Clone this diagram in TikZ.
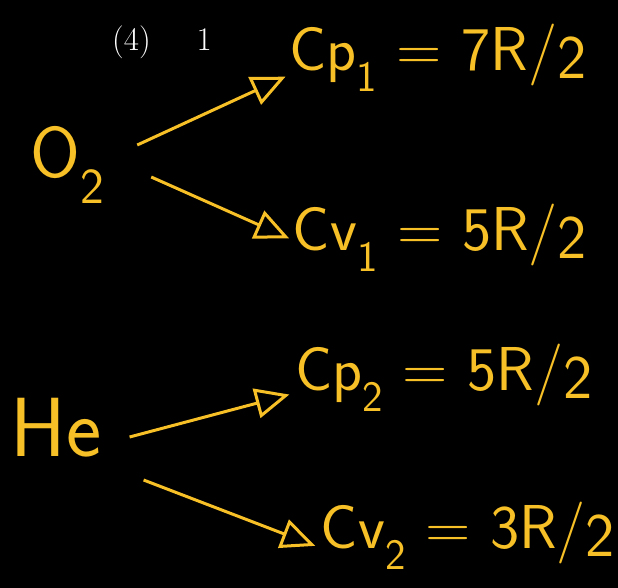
\documentclass[tikz,border=0pt]{standalone}
\usepackage{fontspec}
\usepackage{tikz}
\usetikzlibrary{arrows.meta, positioning}
\definecolor{chalk}{RGB}{246,192,38}

\begin{document}
\begin{tikzpicture}[x=1pt, y=-1pt,
  gas/.style={text=chalk, font=\sffamily\fontsize{72}{76}\selectfont, inner sep=0pt},
  res/.style={text=chalk, font=\sffamily\fontsize{62}{66}\selectfont, inner sep=0pt},
  arr/.style={-{Triangle[open, length=34pt, width=30pt, line width=3pt]}, draw=chalk, line width=3pt},
]
\fill[black] (0,0) rectangle (618,588);
\useasboundingbox (0,0) rectangle (618,588);

\node[text=white, font=\fontsize{33}{36}\selectfont] (num) at (162,42) {(4)\hspace{46pt}1};

\node[gas] (o2) at (68,165) {O\textsubscript{2}};
\node[gas, font=\sffamily\fontsize{84}{88}\selectfont] (he) at (56,428) {He};

\node[res] (cp1) at (438,58) {Cp\textsubscript{1} = 7R/\raisebox{-0.3ex}{2}};
\node[res] (cv1) at (440,238) {Cv\textsubscript{1} = 5R/\raisebox{-0.3ex}{2}};
\node[res] (cp2) at (444,378) {Cp\textsubscript{2} = 5R/\raisebox{-0.3ex}{2}};
\node[res] (cv2) at (468,536) {Cv\textsubscript{2} = 3R/\raisebox{-0.3ex}{2}};

% tails of the arrows
\coordinate (o2up) at ([shift={(32,-20)}]o2.east);
\coordinate (o2dn) at ([shift={(46,12)}]o2.east);
\coordinate (heup) at ([shift={(28,9)}]he.east);
\coordinate (hedn) at ([shift={(42,52)}]he.east);

% Arrows
\draw[arr, shorten >=4pt] (o2up) -- (cp1.west |- 0,75);
\draw[arr, shorten >=4pt] (o2dn) -- (cv1.west |- 0,240);
\draw[arr, shorten >=6pt] (heup) -- (cp2.west |- 0,393);
\draw[arr, shorten >=6pt] (hedn) -- (cv2.west |- 0,548);
\end{tikzpicture}
\end{document}
